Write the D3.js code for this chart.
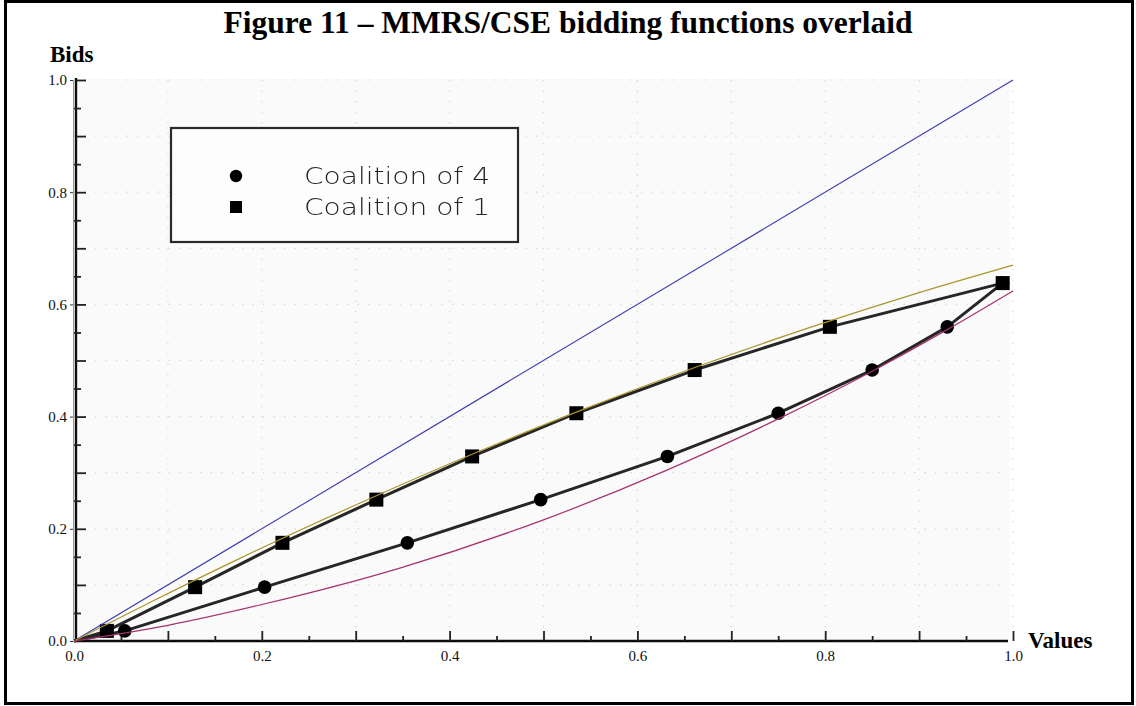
<!DOCTYPE html>
<html>
<head>
<meta charset="utf-8">
<script src="https://cdn.jsdelivr.net/npm/d3@7"></script>
<style>
  html, body { margin: 0; padding: 0; background: #fff; }
  svg { display: block; }
</style>
</head>
<body>
<svg id="chart" width="1136" height="706"></svg>
<script>
// Bid levels shared by both simulated series
const bidLevels = [0, 0.018, 0.096, 0.175, 0.252, 0.329, 0.406, 0.483, 0.560, 0.638];
// Values at which each coalition submits those bids
const coalition4Values = [0, 0.054, 0.203, 0.355, 0.497, 0.632, 0.750, 0.850, 0.930, 0.989];
const coalition1Values = [0, 0.035, 0.129, 0.222, 0.322, 0.424, 0.535, 0.661, 0.805, 0.989];

// Overlaid reference bidding functions
const diagonalX = [0, 1];
const diagonalY = [0, 1];
const upperX = [0, 0.086, 0.175, 0.322, 0.424, 0.535, 0.667, 0.784, 0.900, 1.0];
const upperY = [0, 0.073, 0.146, 0.259, 0.333, 0.408, 0.491, 0.559, 0.621, 0.670];
const lowerX = [0, 0.100, 0.200, 0.347, 0.500, 0.632, 0.750, 0.850, 0.930, 1.0];
const lowerY = [0, 0.028, 0.065, 0.130, 0.216, 0.305, 0.396, 0.481, 0.555, 0.624];

// Axis ticks
const labelTicks = [0, 0.2, 0.4, 0.6, 0.8, 1.0];
const majorTicks = [0.1, 0.2, 0.3, 0.4, 0.5, 0.6, 0.7, 0.8, 0.9, 1.0];
const minorTicks = [0.05, 0.15, 0.25, 0.35, 0.45, 0.55, 0.65, 0.75, 0.85, 0.95];

const legendLabels = ["Coalition of 4", "Coalition of 1"];

const svg = d3.select("#chart");
const W = 1136, H = 706;

const x = d3.scaleLinear().domain([0, 1]).range([74, 1013]);
const y = d3.scaleLinear().domain([0, 1]).range([641, 80]);

const defs = svg.append("defs");
defs.append("filter").attr("id", "soft")
  .append("feGaussianBlur").attr("stdDeviation", 0.55);

// page frame
svg.append("rect").attr("x", 0).attr("y", 0).attr("width", W).attr("height", H).attr("fill", "#fff");
svg.append("rect")
  .attr("x", 5.5).attr("y", 1.5).attr("width", 1127).attr("height", 702)
  .attr("fill", "none").attr("stroke", "#000").attr("stroke-width", 3);

// title
svg.append("text")
  .attr("x", 568).attr("y", 33)
  .attr("text-anchor", "middle")
  .attr("font-family", "'Liberation Serif', 'Times New Roman', serif")
  .attr("font-weight", "bold").attr("font-size", 31.5)
  .text("Figure 11 \u2013 MMRS/CSE bidding functions overlaid");

// plotted paper area
const scan = svg.append("g").attr("filter", "url(#soft)");
scan.append("rect")
  .attr("x", 76).attr("y", y(1) - 1)
  .attr("width", 1010 - 76).attr("height", y(0) - y(1) + 1)
  .attr("fill", "#fafafa");

// faint dotted grid
const grid = scan.append("g").attr("stroke", "#d9d9d9").attr("stroke-width", 1.2)
  .attr("stroke-dasharray", "1.5,9");
grid.selectAll("line.v").data(majorTicks).join("line")
  .attr("class", "v")
  .attr("x1", d => x(d)).attr("x2", d => x(d))
  .attr("y1", y(1)).attr("y2", y(0));
grid.selectAll("line.h").data(majorTicks).join("line")
  .attr("class", "h")
  .attr("x1", x(0)).attr("x2", x(1) - 5)
  .attr("y1", d => y(d)).attr("y2", d => y(d));

// axis frame with inward ticks
const axY = scan.append("g").attr("transform", "translate(76,0)")
  .call(d3.axisLeft(y).tickValues(majorTicks).tickSizeInner(-10).tickSizeOuter(0).tickFormat(""));
scan.append("g").attr("transform", "translate(76,0)")
  .call(d3.axisLeft(y).tickValues(minorTicks).tickSizeInner(-5).tickSizeOuter(0).tickFormat(""))
  .select(".domain").remove();
scan.append("g").attr("transform", "translate(76,0)")
  .call(d3.axisLeft(y).tickValues(minorTicks).tickSizeInner(3).tickSizeOuter(0).tickFormat(""))
  .select(".domain").remove();
const axX = scan.append("g").attr("transform", "translate(0,641)")
  .call(d3.axisBottom(x).tickValues(majorTicks).tickSizeInner(-10).tickSizeOuter(0).tickFormat(""));
scan.append("g").attr("transform", "translate(0,641)")
  .call(d3.axisBottom(x).tickValues(minorTicks).tickSizeInner(-5).tickSizeOuter(0).tickFormat(""))
  .select(".domain").remove();
scan.selectAll(".domain").attr("stroke", "#111").attr("stroke-width", 2.4);
scan.selectAll(".tick line").attr("stroke", "#222").attr("stroke-width", 1.8);
axX.select(".domain").attr("d", `M${x(0)},0H${1008}`);
axY.select(".domain").attr("d", `M0,${y(0)}V${y(1) - 2}`);

// simulated bid series
const line = d3.line().x(d => x(d[0])).y(d => y(d[1]));
const series4 = coalition4Values.map((v, i) => [v, bidLevels[i]]);
const series1 = coalition1Values.map((v, i) => [v, bidLevels[i]]);

scan.append("path").datum(series4).attr("d", line)
  .attr("fill", "none").attr("stroke", "#262626").attr("stroke-width", 3)
  .attr("stroke-linejoin", "round");
scan.append("path").datum(series1).attr("d", line)
  .attr("fill", "none").attr("stroke", "#262626").attr("stroke-width", 3)
  .attr("stroke-linejoin", "round");

scan.selectAll("circle.c4").data(series4.slice(1)).join("circle")
  .attr("class", "c4")
  .attr("cx", d => x(d[0])).attr("cy", d => y(d[1])).attr("r", 6.8)
  .attr("fill", "#000");
scan.selectAll("rect.c1").data(series1.slice(1)).join("rect")
  .attr("class", "c1")
  .attr("x", d => x(d[0]) - 7).attr("y", d => y(d[1]) - 7)
  .attr("width", 14).attr("height", 14)
  .attr("fill", "#000");

// legend
const lg = scan.append("g");
lg.append("rect")
  .attr("x", 171).attr("y", 128).attr("width", 347).attr("height", 114)
  .attr("fill", "#fdfdfd").attr("stroke", "#2a2a2a").attr("stroke-width", 2.2);
lg.append("circle").attr("cx", 236).attr("cy", 176).attr("r", 6.2).attr("fill", "#000");
lg.append("rect").attr("x", 230).attr("y", 201).attr("width", 12).attr("height", 12).attr("fill", "#000");
lg.selectAll("text").data(legendLabels).join("text")
  .attr("x", 304).attr("y", (d, i) => 184 + i * 31)
  .attr("font-family", "'DejaVu Sans', sans-serif")
  .attr("font-weight", 200)
  .attr("font-size", 23)
  .attr("fill", "#222")
  .attr("textLength", 186).attr("lengthAdjust", "spacingAndGlyphs")
  .text(d => d);

// overlaid reference functions
const pairs = (xs, ys) => xs.map((v, i) => [v, ys[i]]);
const smooth = d3.line().x(d => x(d[0])).y(d => y(d[1])).curve(d3.curveMonotoneX);
svg.append("path").datum(pairs(diagonalX, diagonalY)).attr("d", smooth)
  .attr("fill", "none").attr("stroke", "#3b3bb0").attr("stroke-width", 1.1);
svg.append("path").datum(pairs(upperX, upperY)).attr("d", smooth)
  .attr("fill", "none").attr("stroke", "#a8962c").attr("stroke-width", 1.2);
svg.append("path").datum(pairs(lowerX, lowerY)).attr("d", smooth)
  .attr("fill", "none").attr("stroke", "#a63270").attr("stroke-width", 1.2);

// labelled axes
const fmt = d3.format(".1f");
const serif = "'Liberation Serif', 'Times New Roman', serif";
const yl = svg.append("g").attr("transform", "translate(73,0)")
  .call(d3.axisLeft(y).tickValues(labelTicks).tickSize(3).tickPadding(3).tickFormat(fmt));
const xl = svg.append("g").attr("transform", "translate(0,641)")
  .call(d3.axisBottom(x).tickValues(labelTicks).tickSize(0).tickPadding(9).tickFormat(fmt));
[yl, xl].forEach(g => {
  g.selectAll("text").attr("font-family", serif).attr("font-size", 15).attr("fill", "#111");
  g.selectAll(".tick line").attr("stroke", "#333");
});
yl.select(".domain").attr("stroke", "#999").attr("stroke-width", 1);
xl.select(".domain").remove();

// axis titles
svg.append("text").attr("x", 50).attr("y", 62)
  .attr("font-family", serif).attr("font-weight", "bold").attr("font-size", 23)
  .text("Bids");
svg.append("text").attr("x", 1028).attr("y", 648)
  .attr("font-family", serif).attr("font-weight", "bold").attr("font-size", 23)
  .text("Values");
</script>
</body>
</html>
